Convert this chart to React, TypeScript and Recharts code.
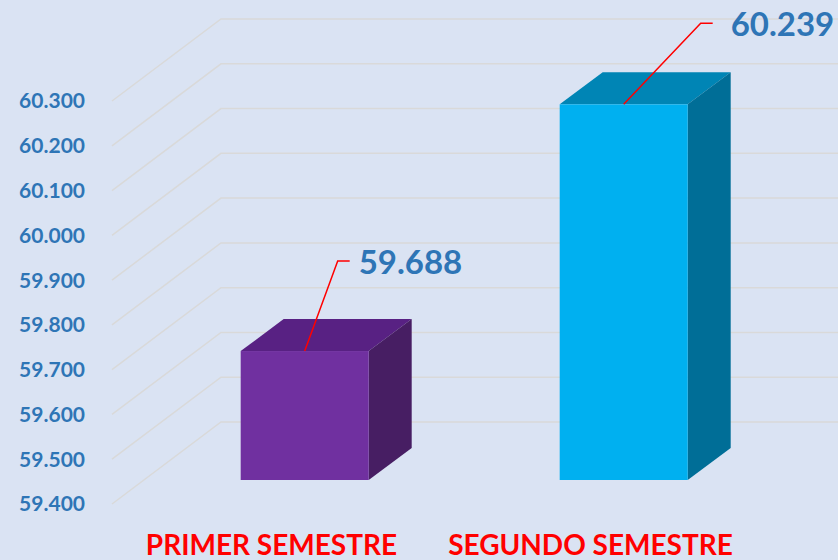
import { BarChart, Bar, XAxis, YAxis, CartesianGrid, LabelList, Cell } from 'recharts'

const semesters = ['PRIMER SEMESTRE', 'SEGUNDO SEMESTRE']
const totals = [59.688, 60.239]
const yTicks = [59.4, 59.5, 59.6, 59.7, 59.8, 59.9, 60.0, 60.1, 60.2, 60.3]

const data = semesters.map((name, i) => ({ name, total: totals[i] }))

// face colours: front, top, side
const faces = [
  ['#7030a0', '#582183', '#471e63'],
  ['#00b0f0', '#0085b5', '#006e97'],
]

// 3D projection of the depth axis (whole wall) and the bar's place inside it
const WALL_DX = 109
const WALL_DY = -82
const FRONT_DX = 33
const FRONT_DY = -24
const BAR_DX = 43
const BAR_DY = -32

// leader lines for the value labels
const leaders = [
  { dx: 33, dy: -90, tx: 21 },
  { dx: 77, dy: -81, tx: 30 },
]

const FONT = 'Lato, "Open Sans", sans-serif'

function Prism(props: any) {
  const { x, y, width, height, index } = props
  const [front, top, side] = faces[index]
  const fx = x + FRONT_DX
  const fy = y + FRONT_DY
  const w = width
  const h = height
  return (
    <g>
      <polygon
        points={`${fx},${fy} ${fx + BAR_DX},${fy + BAR_DY} ${fx + w + BAR_DX},${fy + BAR_DY} ${fx + w},${fy}`}
        fill={top}
      />
      <polygon
        points={`${fx + w},${fy} ${fx + w + BAR_DX},${fy + BAR_DY} ${fx + w + BAR_DX},${fy + h + BAR_DY} ${fx + w},${fy + h}`}
        fill={side}
      />
      <rect x={fx} y={fy} width={w} height={h} fill={front} />
    </g>
  )
}

function GridLine(props: any) {
  const { x1, y1, index } = props
  const bx = x1 + WALL_DX
  const by = y1 + WALL_DY
  return (
    <polyline
      key={`grid-${index}-${y1}`}
      points={`${x1},${y1} ${bx},${by} 900,${by}`}
      fill="none"
      stroke="#d9d9d9"
      strokeWidth={1.5}
    />
  )
}

function ValueLabel(props: any) {
  const { x, y, width, value, index } = props
  const l = leaders[index]
  const sx = x + FRONT_DX + width / 2
  const sy = y + FRONT_DY
  const kx = sx + l.dx
  const ky = sy + l.dy
  return (
    <g>
      <polyline points={`${sx},${sy} ${kx},${ky} ${kx + 12},${ky}`} fill="none" stroke="#ff0000" strokeWidth={1.5} />
      <text x={kx + l.tx} y={ky + 13} fill="#2e75b6" fontSize={33} fontWeight={700} fontFamily={FONT}>
        {Number(value).toFixed(3)}
      </text>
    </g>
  )
}

function CategoryTick(props: any) {
  const { x, y, payload } = props
  return (
    <text x={x} y={y + 49} textAnchor="middle" fill="#ff0000" fontSize={28} fontWeight={700} fontFamily={FONT}>
      {payload.value}
    </text>
  )
}

export default function App() {
  return (
    <div style={{ position: 'absolute', left: 0, top: 0, width: 838, height: 560, background: '#dae3f3', overflow: 'hidden' }}>
      <BarChart width={838} height={560} data={data} margin={{ top: 101, right: 88, bottom: 0, left: 0 }} barCategoryGap="30%">
        <CartesianGrid vertical={false} horizontal={GridLine} />
        <XAxis dataKey="name" axisLine={false} tickLine={false} tickSize={0} height={56} tick={CategoryTick} interval={0} />
        <YAxis
          domain={[59.4, 60.3]}
          ticks={yTicks}
          axisLine={false}
          tickLine={false}
          tickSize={0}
          tickMargin={27}
          width={112}
          tickFormatter={(v: number) => v.toFixed(3)}
          tick={{ fill: '#2e75b6', fontSize: 21, fontWeight: 700, fontFamily: FONT }}
        />
        <Bar dataKey="total" shape={Prism} isAnimationActive={false}>
          {data.map((d, i) => (
            <Cell key={d.name} fill={faces[i][0]} />
          ))}
          <LabelList dataKey="total" content={ValueLabel} />
        </Bar>
      </BarChart>
    </div>
  )
}
